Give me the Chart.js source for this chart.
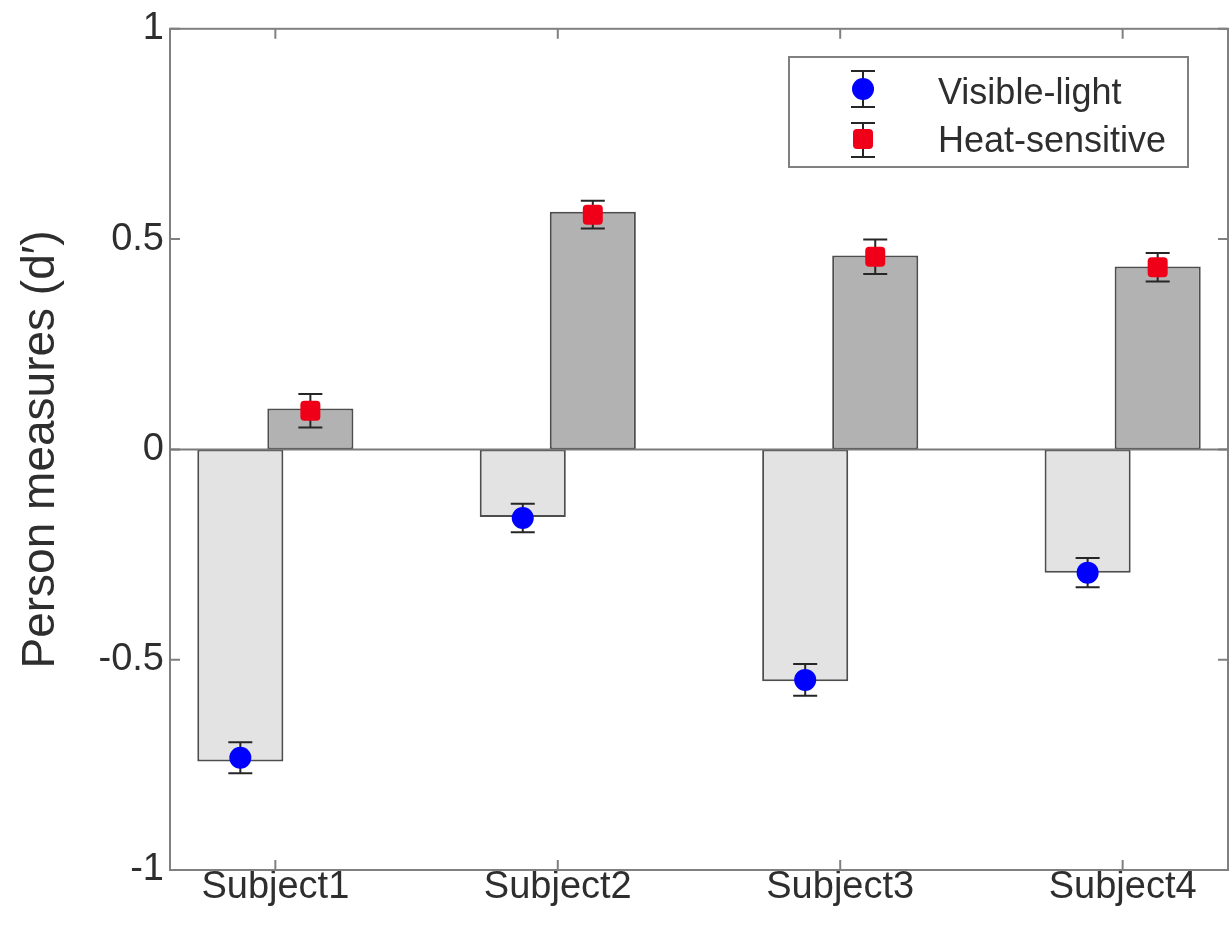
<!DOCTYPE html>
<html>
<head>
<meta charset="utf-8">
<script src="https://cdn.jsdelivr.net/npm/chart.js@4"></script>
<style>
  html, body { margin: 0; padding: 0; background: #fff; }
  #wrap { width: 1231px; height: 942px; }
</style>
</head>
<body>
<div id="wrap"><canvas id="chart" width="1231" height="942"></canvas></div>
<script>
// Data
const categories = ['Subject1', 'Subject2', 'Subject3', 'Subject4'];
const visibleBars = [-0.742, -0.161, -0.551, -0.293];
const heatBars = [0.097, 0.565, 0.461, 0.435];
const visibleMeans = [-0.733, -0.163, -0.548, -0.293];
const heatMeans = [0.092, 0.558, 0.458, 0.433];
const visibleErr = [0.037, 0.034, 0.038, 0.035];
const heatErr = [0.040, 0.033, 0.041, 0.034];
const yTicks = [-1, -0.5, 0, 0.5, 1];

const TEXT = '#2e2e2e';
const FRAME = '#808080';
const FONT = '"Liberation Sans", Arial, Helvetica, sans-serif';

// Draw an error bar with caps plus a marker
function drawMarker(ctx, x, y, lo, hi, shape) {
    ctx.save();
    ctx.strokeStyle = '#262626';
    ctx.lineWidth = 2;
    ctx.beginPath();
    ctx.moveTo(x, lo); ctx.lineTo(x, hi);
    ctx.moveTo(x - 12, lo); ctx.lineTo(x + 12, lo);
    ctx.moveTo(x - 12, hi); ctx.lineTo(x + 12, hi);
    ctx.stroke();
    if (shape === 'circle') {
        ctx.fillStyle = '#0000ff';
        ctx.beginPath();
        ctx.arc(x, y, 11, 0, Math.PI * 2);
        ctx.fill();
    } else {
        ctx.fillStyle = '#f00018';
        ctx.beginPath();
        if (ctx.roundRect) ctx.roundRect(x - 10, y - 10, 20, 20, 4);
        else ctx.rect(x - 10, y - 10, 20, 20);
        ctx.fill();
    }
    ctx.restore();
}

const framePlugin = {
    id: 'frame',
    beforeDatasetsDraw(chart) {
        const { ctx, chartArea: a, scales: { x, y } } = chart;
        ctx.save();
        ctx.strokeStyle = FRAME;
        ctx.lineWidth = 2;
        ctx.strokeRect(a.left, a.top, a.right - a.left, a.bottom - a.top);
        // inward ticks
        ctx.beginPath();
        yTicks.forEach(v => {
            const py = y.getPixelForValue(v);
            ctx.moveTo(a.left, py); ctx.lineTo(a.left + 10, py);
            ctx.moveTo(a.right, py); ctx.lineTo(a.right - 10, py);
        });
        categories.forEach((c, i) => {
            const px = x.getPixelForValue(i + 1);
            ctx.moveTo(px, a.bottom); ctx.lineTo(px, a.bottom - 10);
            ctx.moveTo(px, a.top); ctx.lineTo(px, a.top + 10);
        });
        ctx.stroke();
        ctx.restore();
    },
    afterDatasetsDraw(chart) {
        const { ctx, chartArea: a, scales: { y } } = chart;
        // baseline at zero
        const y0 = y.getPixelForValue(0);
        ctx.save();
        ctx.strokeStyle = '#7a7a7a';
        ctx.lineWidth = 2;
        ctx.beginPath();
        ctx.moveTo(a.left, y0); ctx.lineTo(a.right, y0);
        ctx.stroke();
        ctx.restore();

        // markers with error bars on top of each bar
        const visMeta = chart.getDatasetMeta(0);
        const heatMeta = chart.getDatasetMeta(1);
        categories.forEach((c, i) => {
            const vx = visMeta.data[i].x;
            drawMarker(ctx, vx, y.getPixelForValue(visibleMeans[i]),
                y.getPixelForValue(visibleMeans[i] - visibleErr[i]),
                y.getPixelForValue(visibleMeans[i] + visibleErr[i]), 'circle');
            const hx = heatMeta.data[i].x;
            drawMarker(ctx, hx, y.getPixelForValue(heatMeans[i]),
                y.getPixelForValue(heatMeans[i] - heatErr[i]),
                y.getPixelForValue(heatMeans[i] + heatErr[i]), 'square');
        });

        // legend box
        ctx.save();
        ctx.fillStyle = '#fff';
        ctx.fillRect(789, 57, 399, 110);
        ctx.strokeStyle = FRAME;
        ctx.lineWidth = 2;
        ctx.strokeRect(789, 57, 399, 110);
        drawMarker(ctx, 863, 89, 107, 71, 'circle');
        drawMarker(ctx, 863, 139, 157, 123, 'square');
        ctx.fillStyle = TEXT;
        ctx.font = '36px ' + FONT;
        ctx.textBaseline = 'alphabetic';
        ctx.fillText('Visible-light', 938, 104);
        ctx.fillText('Heat-sensitive', 938, 152);
        ctx.restore();
    }
};

const toXY = arr => arr.map((v, i) => ({ x: i + 1, y: v }));

new Chart(document.getElementById('chart'), {
    type: 'bar',
    data: {
        datasets: [
            {
                label: 'Visible-light',
                data: toXY(visibleBars),
                backgroundColor: '#e3e3e3',
                borderColor: '#4d4d4d',
                borderWidth: 2,
                borderSkipped: false,
                categoryPercentage: 0.496,
                barPercentage: 1.229
            },
            {
                label: 'Heat-sensitive',
                data: toXY(heatBars),
                backgroundColor: '#b2b2b2',
                borderColor: '#4d4d4d',
                borderWidth: 2,
                borderSkipped: false,
                categoryPercentage: 0.496,
                barPercentage: 1.229
            }
        ]
    },
    options: {
        responsive: false,
        animation: false,
        layout: { padding: { top: 15, right: 3, left: 0, bottom: 0 } },
        plugins: {
            legend: { display: false },
            tooltip: { enabled: false }
        },
        scales: {
            x: {
                type: 'linear',
                offset: false,
                min: 0.627,
                max: 4.373,
                grid: { display: false, drawTicks: false },
                border: { display: false },
                ticks: {
                    stepSize: 1,
                    includeBounds: false,
                    padding: -1,
                    color: TEXT,
                    font: { family: FONT, size: 38, lineHeight: 1 },
                    callback: v => categories[v - 1] || ''
                },
                afterFit(scale) { scale.height = 72; }
            },
            y: {
                min: -1,
                max: 1,
                grid: { display: false, drawTicks: false },
                border: { display: false },
                ticks: {
                    stepSize: 0.5,
                    padding: 6,
                    color: TEXT,
                    font: { family: FONT, size: 38 },
                    callback: v => String(v)
                },
                title: {
                    display: true,
                    text: 'Person measures (d\u2032)',
                    color: TEXT,
                    font: { family: FONT, size: 46 },
                    padding: { top: 14, bottom: 0 }
                },
                afterFit(scale) { scale.width = 170; }
            }
        }
    },
    plugins: [framePlugin]
});
</script>
</body>
</html>
